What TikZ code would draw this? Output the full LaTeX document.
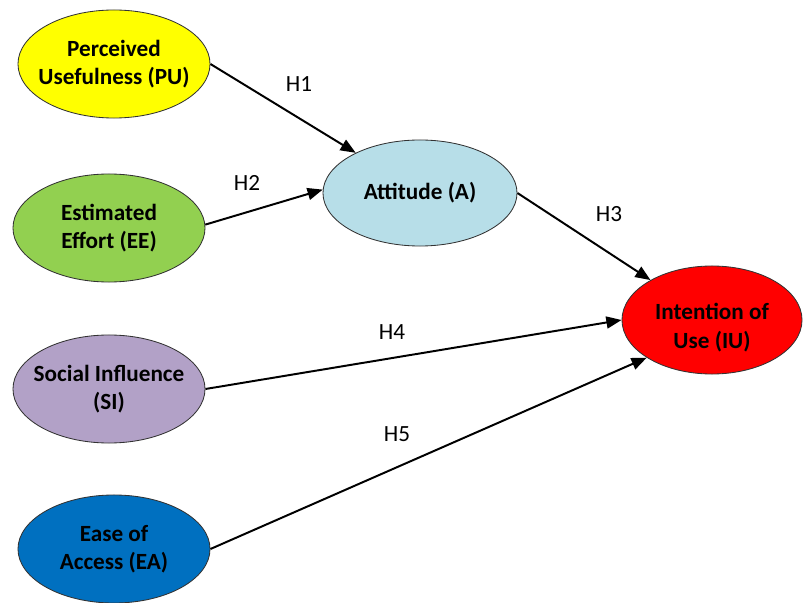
\documentclass[tikz,border=0pt]{standalone}
\usepackage{fontspec}
\setmainfont{Carlito}
\usepackage{xcolor}
\usetikzlibrary{shapes.geometric,arrows.meta}

\definecolor{puyellow}{RGB}{255,255,0}
\definecolor{eegreen}{RGB}{146,208,80}
\definecolor{sililac}{RGB}{178,161,199}
\definecolor{eablue}{RGB}{0,112,192}
\definecolor{attblue}{RGB}{183,222,232}
\definecolor{iured}{RGB}{255,0,0}

\tikzset{
  construct/.style={ellipse, draw=black!80, line width=0.6pt,
    inner xsep=-12pt, inner ysep=0pt,
    minimum width=4.8cm, minimum height=2.7cm, align=center,
    font=\fontsize{16.5}{20}\selectfont\bfseries},
  hyp/.style={font=\fontsize{16.5}{20}\selectfont},
  link/.style={-{Triangle[length=3.8mm,width=3mm]}, line width=1.4pt}
}

\begin{document}
\begin{tikzpicture}[x=0.025cm,y=-0.025cm]
\useasboundingbox (0,0) rectangle (803,603);

\node[construct, fill=puyellow] (pu) at (114,64) {Perceived\\Usefulness (PU)};
\node[construct, fill=eegreen] (ee) at (109,228) {Estimated\\Effort (EE)};
\node[construct, fill=sililac] (si) at (109,389) {Social Influence\\(SI)};
\node[construct, fill=eablue] (ea) at (114,549) {Ease of\\Access (EA)};
\node[construct, fill=attblue, minimum width=4.85cm, minimum height=2.65cm] (a) at (420,193) {Attitude (A)};
\node[construct, fill=iured, minimum width=4.5cm] (iu) at (712,320)
  {\raisebox{-6pt}[\height][\depth]{\begin{tabular}{@{}c@{}}Intention of\\Use (IU)\end{tabular}}};

%hypotheses
\draw[link] (pu.east) -- (a.148);
\draw[link] (ee.2) -- (a.178);
\draw[link] (a.east) -- (iu.147);
\draw[link] (si.east) -- (iu.west);
\draw[link] (ea.east) -- (iu.210);

\node[hyp] (h1) at (299,84) {H1};
\node[hyp] (h2) at (247,183) {H2};
\node[hyp] (h3) at (609,214) {H3};
\node[hyp] (h4) at (392,332) {H4};
\node[hyp] (h5) at (397,434) {H5};
\end{tikzpicture}
\end{document}
